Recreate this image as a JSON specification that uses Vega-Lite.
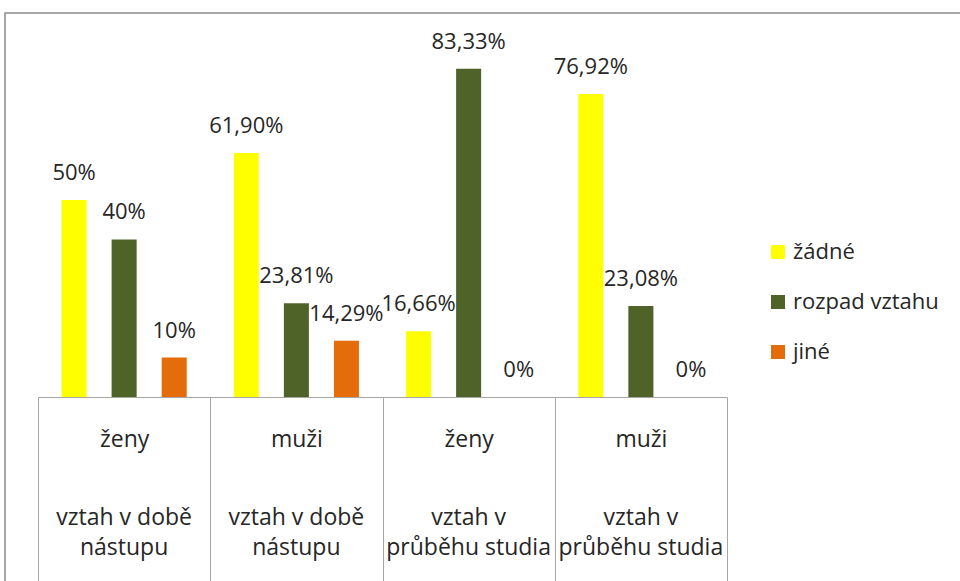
{
  "$schema": "https://vega.github.io/schema/vega-lite/v6.json",
  "width": 960,
  "height": 575,
  "autosize": {"type": "none"},
  "padding": {"left": 5, "top": 13, "right": 0, "bottom": 0},
  "background": "white",
  "config": {
    "view": {"stroke": "#8c8c8c", "strokeWidth": 1.5},
    "font": "Open Sans"
  },
  "data": {
    "values": [
      {"grp": "ženy|vztah v době|nástupu", "kat": "žádné", "value": 0.5, "label": "50%"},
      {"grp": "ženy|vztah v době|nástupu", "kat": "rozpad vztahu", "value": 0.4, "label": "40%"},
      {"grp": "ženy|vztah v době|nástupu", "kat": "jiné", "value": 0.1, "label": "10%"},
      {"grp": "muži|vztah v době|nástupu", "kat": "žádné", "value": 0.619, "label": "61,90%"},
      {"grp": "muži|vztah v době|nástupu", "kat": "rozpad vztahu", "value": 0.2381, "label": "23,81%"},
      {"grp": "muži|vztah v době|nástupu", "kat": "jiné", "value": 0.1429, "label": "14,29%"},
      {"grp": "ženy|vztah v|průběhu studia", "kat": "žádné", "value": 0.1666, "label": "16,66%"},
      {"grp": "ženy|vztah v|průběhu studia", "kat": "rozpad vztahu", "value": 0.8333, "label": "83,33%"},
      {"grp": "ženy|vztah v|průběhu studia", "kat": "jiné", "value": 0, "label": "0%"},
      {"grp": "muži|vztah v|průběhu studia", "kat": "žádné", "value": 0.7692, "label": "76,92%"},
      {"grp": "muži|vztah v|průběhu studia", "kat": "rozpad vztahu", "value": 0.2308, "label": "23,08%"},
      {"grp": "muži|vztah v|průběhu studia", "kat": "jiné", "value": 0, "label": "0%"}
    ]
  },
  "encoding": {
    "x": {
      "field": "grp",
      "type": "nominal",
      "sort": null,
      "scale": {"range": [33, 722], "paddingInner": 0, "paddingOuter": 0}
    },
    "xOffset": {
      "field": "kat",
      "type": "nominal",
      "sort": ["žádné", "rozpad vztahu", "jiné"],
      "scale": {"paddingInner": 0.5, "paddingOuter": 0.47}
    },
    "y": {
      "field": "value",
      "type": "quantitative",
      "scale": {"domain": [0, 1], "range": [384, -10], "nice": false},
      "axis": null
    }
  },
  "layer": [
    {
      "mark": {"type": "bar"},
      "encoding": {
        "x": {
          "field": "grp",
          "type": "nominal",
          "sort": null,
          "axis": {
            "orient": "bottom",
            "offset": -191,
            "title": null,
            "tickBand": "extent",
            "tickSize": 200,
            "tickColor": "#a6a6a6",
            "tickWidth": 1,
            "domainColor": "#a6a6a6",
            "domainWidth": 1,
            "labelAngle": 0,
            "labelExpr": "isValid(datum.value) && indexof(datum.value + '', '|') > 0 ? split(datum.value, '|')[0] : ''",
            "labelPadding": -169,
            "labelFontSize": 23,
            "labelFont": "Open Sans",
            "labelColor": "#262626"
          }
        },
        "color": {
          "field": "kat",
          "type": "nominal",
          "sort": ["žádné", "rozpad vztahu", "jiné"],
          "scale": {"domain": ["žádné", "rozpad vztahu", "jiné"], "range": ["#FFFF00", "#4F6228", "#E46C0A"]},
          "legend": {
            "orient": "none",
            "legendX": 762,
            "legendY": 228,
            "title": null,
            "labelFontSize": 22,
            "labelFont": "Open Sans",
            "labelColor": "#262626",
            "symbolType": "square",
            "symbolSize": 196,
            "symbolStrokeWidth": 0,
            "rowPadding": 28,
            "labelOffset": 4
          }
        }
      }
    },
    {
      "mark": {"type": "text", "baseline": "middle", "dy": -27, "fontSize": 22, "font": "Open Sans", "color": "#262626"},
      "encoding": {
        "x": {
          "field": "grp",
          "type": "nominal",
          "sort": null,
          "axis": {
            "orient": "bottom",
            "offset": -191,
            "title": null,
            "ticks": false,
            "domain": false,
            "labelAngle": 0,
            "labelExpr": "slice(split(datum.value, '|'), 1)",
            "labelPadding": 109,
            "labelLineHeight": 30,
            "labelFontSize": 23,
            "labelFont": "Open Sans",
            "labelColor": "#262626"
          }
        },
        "text": {"field": "label", "type": "nominal"}
      }
    }
  ],
  "resolve": {"axis": {"x": "independent"}}
}
